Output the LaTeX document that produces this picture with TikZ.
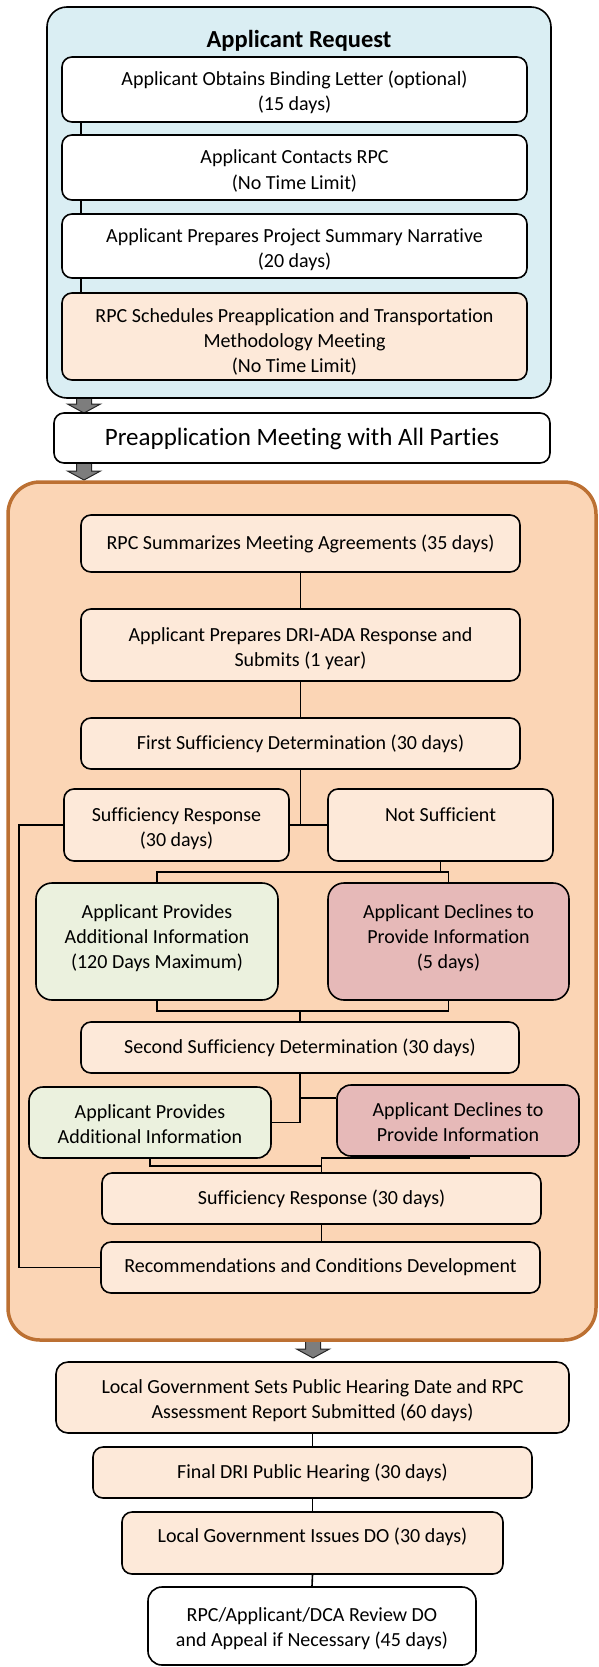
\documentclass[tikz,border=0pt]{standalone}
\usepackage{fontspec}
\setmainfont{Carlito}[Ligatures=NoCommon]
\usetikzlibrary{calc}
\definecolor{bluefill}{RGB}{218,238,243}
\definecolor{peach}{RGB}{253,233,217}
\definecolor{orangefill}{RGB}{251,213,181}
\definecolor{orangeedge}{RGB}{188,112,50}
\definecolor{greenfill}{RGB}{235,241,222}
\definecolor{pinkfill}{RGB}{230,185,184}
\definecolor{arrowgray}{RGB}{125,125,125}
\tikzset{
  box/.style={draw=black, line width=1.6pt, rounded corners=10pt, align=center, inner sep=2pt, font=\fontsize{20}{25}\selectfont},
  whitebox/.style={box, fill=white},
  peachbox/.style={box, fill=peach},
  greenbox/.style={box, fill=greenfill, rounded corners=16pt},
  pinkbox/.style={box, fill=pinkfill, rounded corners=16pt},
  bluecontainer/.style={draw=black, line width=1.6pt, fill=bluefill, rounded corners=20pt},
  orangecontainer/.style={draw=orangeedge, line width=3.5pt, fill=orangefill, rounded corners=32pt},
  conn/.style={draw=black, line width=1.6pt},
  barrow/.style={fill=arrowgray, draw=black!85, line width=1pt, line join=miter},
}
\newcommand\bx[7]{%
  \pgfmathsetmacro\bxcx{(#2+#4)/2}%
  \pgfmathsetmacro\bxcy{(#3+#5)/2}%
  \pgfmathsetmacro\bxw{#4-#2}%
  \pgfmathsetmacro\bxh{#5-#3}%
  \node[#6, minimum width=\bxw pt, minimum height=\bxh pt] (#1) at (\bxcx,\bxcy) {#7};}
% text block shifted vertically without changing its centring box
\newcommand\tx[2]{\raisebox{#1}[\height][\depth]{\begin{tabular}{@{}c@{}}#2\end{tabular}}}
\newcommand\blockarrow[3]{\draw[barrow, shift={(#1,#2)}] (-7.5,0) -- (7.5,0) -- (7.5,#3-9) -- (16.5,#3-9) -- (0,#3) -- (-16.5,#3-9) -- (-7.5,#3-9) -- cycle;}
\begin{document}
\begin{tikzpicture}[x=1pt, y=-1pt]
\useasboundingbox (0,0) rectangle (599,1667);
% block arrows (drawn first so containers cover their tails)
\blockarrow{84}{394}{19}
\blockarrow{84}{461}{19}
\blockarrow{313}{1336}{22}
% containers
\bx{blue}{47}{7}{551}{398}{bluecontainer}{}
\node[font=\fontsize{24.5}{28}\selectfont\bfseries] (title) at (299,41) {Applicant Request};
\bx{orange}{8}{482}{596}{1340}{orangecontainer}{}
% applicant request boxes
\bx{b1}{62}{57}{527}{122}{whitebox}{\tx{-4pt}{Applicant Obtains Binding Letter (optional)\\(15 days)}}
\bx{b2}{62}{135}{527}{200}{whitebox}{\tx{-4pt}{Applicant Contacts RPC\\(No Time Limit)}}
\bx{b3}{62}{214}{527}{278}{whitebox}{\tx{-4pt}{Applicant Prepares Project Summary Narrative\\(20 days)}}
\bx{b4}{62}{293}{527}{380}{peachbox}{\tx{-6pt}{RPC Schedules Preapplication and Transportation\\Methodology Meeting\\(No Time Limit)}}
\bx{pre}{54}{413}{550}{463}{whitebox, font=\fontsize{25}{30}\selectfont}{\tx{-1.5pt}{Preapplication Meeting with All Parties}}
% orange section
\bx{rpcsum}{81}{515}{520}{572}{peachbox}{RPC Summarizes Meeting Agreements (35 days)}
\bx{dri}{81}{609}{520}{681}{peachbox}{\tx{-4pt}{Applicant Prepares DRI-ADA Response and\\Submits (1 year)}}
\bx{first}{81}{718}{520}{769}{peachbox}{First Sufficiency Determination (30 days)}
\bx{sr1}{64}{789}{289}{861}{peachbox}{\tx{-4pt}{Sufficiency Response\\(30 days)}}
\bx{ns}{328}{789}{553}{861}{peachbox}{\tx{-4pt}{Not Sufficient\\\strut}}
\bx{g1}{36}{883}{278}{1000}{greenbox}{\tx{3.5pt}{Applicant Provides\\Additional Information\\(120 Days Maximum)}}
\bx{p1}{328}{883}{569}{1000}{pinkbox}{\tx{3.5pt}{Applicant Declines to\\Provide Information\\(5 days)}}
\bx{second}{81}{1022}{519}{1073}{peachbox}{Second Sufficiency Determination (30 days)}
\bx{g2}{29}{1087}{271}{1158}{greenbox, rounded corners=14pt}{\tx{-3pt}{Applicant Provides\\Additional Information}}
\bx{p2}{337}{1085}{579}{1156}{pinkbox, rounded corners=14pt}{\tx{-3pt}{Applicant Declines to\\Provide Information}}
\bx{sr2}{102}{1173}{541}{1224}{peachbox}{Sufficiency Response (30 days)}
\bx{rec}{101}{1242}{540}{1293}{peachbox}{Recommendations and Conditions Development}
% lower chain
\bx{lg}{56}{1362}{569}{1433}{peachbox, rounded corners=12pt}{\tx{-3pt}{Local Government Sets Public Hearing Date and RPC\\Assessment Report Submitted (60 days)}}
\bx{fd}{93}{1447}{532}{1498}{peachbox}{Final DRI Public Hearing (30 days)}
\bx{iss}{122}{1512}{503}{1574}{peachbox}{\tx{6pt}{Local Government Issues DO (30 days)}}
\bx{rv}{148}{1587}{476}{1665}{whitebox, rounded corners=14pt}{\tx{-3pt}{RPC/Applicant/DCA Review DO\\and Appeal if Necessary (45 days)}}
% helper coordinates
\coordinate (xa) at (81,0);
\coordinate (lx) at (19,0);
\coordinate (y872) at (0,872);
\coordinate (y1011) at (0,1011);
\coordinate (y1098) at (0,1098);
\coordinate (y1166) at (0,1166);
\coordinate (c470) at (470,1158);
% connectors
\draw[conn] (b1.south -| xa) -- (b2.north -| xa);
\draw[conn] (b2.south -| xa) -- (b3.north -| xa);
\draw[conn] (b3.south -| xa) -- (b4.north -| xa);
\draw[conn] (rpcsum.south) -- (dri.north);
\draw[conn] (dri.south) -- (first.north);
\draw[conn] (first.south) -- (first.south |- sr1.east);
\draw[conn] (sr1.east) -- (ns.west);
\draw[conn] (sr1.west) -| (lx |- rec.west) -- (rec.west);
\draw[conn] (ns.south) -- (ns.south |- y872);
\draw[conn] (g1.north) |- (p1.north |- y872) -- (p1.north);
\draw[conn] (g1.south) |- (p1.south |- y1011) -- (p1.south);
\draw[conn] (second.north) -- (second.north |- y1011);
\draw[conn] (second.south) |- (g2.east);
\draw[conn] (second.south |- y1098) -- (p2.west |- y1098);
\draw[conn] (g2.south) |- (sr2.north |- y1166);
\draw[conn] (sr2.north) |- (c470);
\draw[conn] (sr2.south) -- (sr2.south |- rec.north);
\draw[conn] (lg.south) -- (fd.north);
\draw[conn] (fd.south) -- (iss.north);
\draw[conn] (iss.south) -- (rv.north);
\end{tikzpicture}
\end{document}
